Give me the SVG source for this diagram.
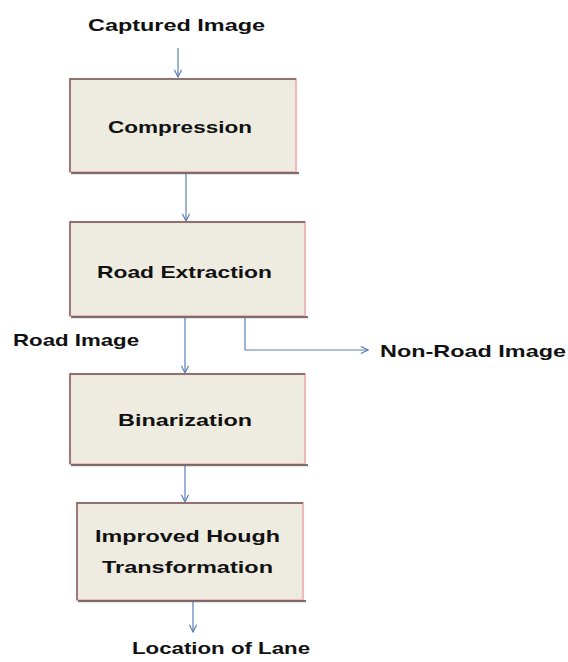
<svg xmlns="http://www.w3.org/2000/svg" width="568" height="662" viewBox="0 0 568 662">
  <style>
    .box { fill: #eeece1; stroke: #ecbcb8; stroke-width: 2.2; }
    .edge { fill: none; stroke: #6e5a5a; stroke-width: 1.3; }
    .shadow { fill: #5e5050; opacity: 0.8; }
    .lbl { font-family: "Liberation Sans", Arial, sans-serif; font-weight: bold; font-size: 17px; fill: #111111; }
    .conn { fill: none; stroke: #5a7fb5; stroke-width: 1.2; }
  </style>
  <defs>
    <marker id="arr" viewBox="0 0 10 10" refX="9" refY="5" markerWidth="9" markerHeight="9" markerUnits="userSpaceOnUse" orient="auto">
      <path d="M1,1 L9,5 L1,9" fill="none" stroke="#5a7fb5" stroke-width="1.3"/>
    </marker>
  </defs>
  <rect width="568" height="662" fill="#ffffff"/>

  <g id="connectors">
    <line class="conn" x1="178" y1="48" x2="178" y2="77" marker-end="url(#arr)"/>
    <line class="conn" x1="186" y1="174" x2="186" y2="221" marker-end="url(#arr)"/>
    <line class="conn" x1="185" y1="318" x2="185" y2="373" marker-end="url(#arr)"/>
    <polyline class="conn" points="245,318 245,350 368,350" marker-end="url(#arr)"/>
    <line class="conn" x1="185" y1="466" x2="185" y2="502" marker-end="url(#arr)"/>
    <line class="conn" x1="193" y1="602" x2="193" y2="632" marker-end="url(#arr)"/>
  </g>

  <g id="captured-image">
    <text class="lbl" x="88" y="31" textLength="177" lengthAdjust="spacingAndGlyphs">Captured Image</text>
  </g>

  <g id="compression">
    <rect class="box" x="70" y="79" width="226" height="93"/>
    <path class="edge" d="M70,172 V79 H296"/>
    <rect class="shadow" x="71" y="172" width="228" height="2.2"/>
    <text class="lbl" x="108" y="133" textLength="144" lengthAdjust="spacingAndGlyphs">Compression</text>
  </g>

  <g id="road-extraction">
    <rect class="box" x="70" y="222" width="235" height="94"/>
    <path class="edge" d="M70,316 V222 H305"/>
    <rect class="shadow" x="71" y="316" width="237" height="2.2"/>
    <text class="lbl" x="97" y="278" textLength="175" lengthAdjust="spacingAndGlyphs">Road Extraction</text>
  </g>

  <g id="road-image">
    <text class="lbl" x="13" y="346" textLength="126" lengthAdjust="spacingAndGlyphs">Road Image</text>
  </g>

  <g id="non-road-image">
    <text class="lbl" x="380" y="357" textLength="186" lengthAdjust="spacingAndGlyphs">Non-Road Image</text>
  </g>

  <g id="binarization">
    <rect class="box" x="70" y="374" width="235" height="90"/>
    <path class="edge" d="M70,464 V374 H305"/>
    <rect class="shadow" x="71" y="464" width="237" height="2.2"/>
    <text class="lbl" x="118" y="426" textLength="134" lengthAdjust="spacingAndGlyphs">Binarization</text>
  </g>

  <g id="improved-hough">
    <rect class="box" x="77" y="503" width="226" height="97"/>
    <path class="edge" d="M77,600 V503 H303"/>
    <rect class="shadow" x="78" y="600" width="228" height="2.2"/>
    <text class="lbl" x="95" y="542" textLength="185" lengthAdjust="spacingAndGlyphs">Improved Hough</text>
    <text class="lbl" x="102" y="573" textLength="171" lengthAdjust="spacingAndGlyphs">Transformation</text>
  </g>

  <g id="location-of-lane">
    <text class="lbl" x="132" y="654" textLength="178" lengthAdjust="spacingAndGlyphs">Location of Lane</text>
  </g>
</svg>
